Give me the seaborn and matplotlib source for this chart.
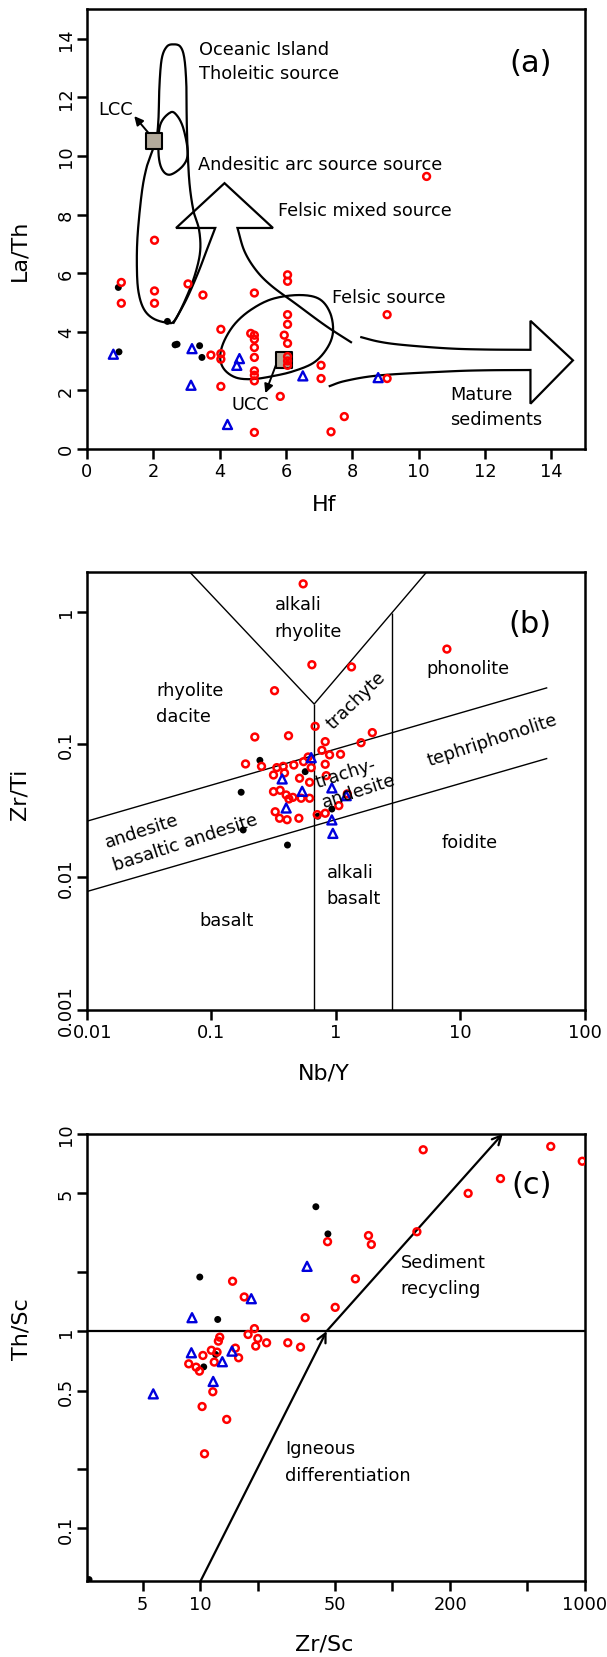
import numpy as np
import pandas as pd
import matplotlib
matplotlib.use("Agg")
import matplotlib.pyplot as plt
import matplotlib.transforms as mtransforms
import seaborn as sns

# ---------------- data: panel (a) La/Th vs Hf ----------------
a_red_hf = [1.04, 1.04, 2.04, 2.04, 2.04, 3.05, 3.50, 4.04, 3.74, 4.04, 4.04, 4.04, 4.94,
            5.05, 5.05, 5.05, 5.05, 5.05, 5.05, 5.05, 5.05, 5.05, 5.95, 6.05, 6.05, 6.05,
            6.05, 6.05, 6.05, 6.05, 6.05, 5.83, 7.06, 7.06, 7.36, 7.76, 9.05, 9.05, 10.24]
a_red_lath = [5.68, 4.97, 7.12, 5.39, 4.97, 5.63, 5.25, 4.08, 3.20, 3.25, 3.06, 2.13, 3.94,
              3.88, 3.74, 3.46, 3.12, 5.32, 2.66, 2.51, 2.32, 0.56, 3.88, 5.94, 5.72, 4.58,
              4.25, 3.60, 3.15, 3.00, 2.85, 1.79, 2.85, 2.40, 0.58, 1.10, 4.58, 2.40, 9.30]
a_blk_hf = [0.95, 0.97, 2.43, 2.66, 2.72, 3.40, 3.47]
a_blk_lath = [5.51, 3.31, 4.35, 3.55, 3.57, 3.52, 3.12]
a_blu_hf = [0.80, 3.17, 3.14, 4.60, 4.52, 4.24, 6.51, 8.78]
a_blu_lath = [3.23, 3.42, 2.17, 3.08, 2.85, 0.83, 2.49, 2.43]
a_ref_hf = [2.02, 5.95]          # LCC, UCC
a_ref_lath = [10.50, 3.04]

# field outlines of panel (a) (data units)
a_outer_loop = [(2.61, 13.81), (2.41, 13.73), (2.26, 13.33), (2.19, 12.42), (2.16, 11.27),
                (2.10, 10.60), (1.95, 10.10), (1.80, 9.60), (1.66, 8.77), (1.53, 7.28),
                (1.51, 6.14), (1.56, 5.34), (1.72, 4.77), (2.00, 4.45), (2.41, 4.31),
                (2.66, 4.40), (3.05, 5.30), (3.30, 6.10), (3.42, 6.80), (3.38, 7.50),
                (3.22, 8.10), (3.10, 9.00), (3.04, 10.13), (3.01, 11.27), (3.00, 12.42),
                (2.94, 13.33), (2.82, 13.73)]
a_arc_loop = [(2.51, 11.48), (2.21, 11.05), (2.16, 10.13), (2.26, 9.56), (2.51, 9.36),
              (2.91, 9.68), (3.04, 10.13), (2.91, 10.94), (2.71, 11.39)]
a_felsic_loop = [(4.02, 3.10), (4.12, 3.63), (4.45, 4.25), (4.95, 4.75), (5.60, 5.12),
                 (6.40, 5.25), (7.00, 5.12), (7.33, 4.65), (7.42, 4.00), (7.25, 3.45),
                 (6.85, 2.95), (6.23, 2.65), (5.60, 2.48), (5.00, 2.38), (4.50, 2.43),
                 (4.15, 2.70)]
a_up_left_shaft = [(2.60, 4.27), (3.00, 5.10), (3.35, 6.00), (3.62, 6.80), (3.87, 7.54)]
a_up_head = [(3.87, 7.54), (2.69, 7.54), (4.15, 9.07), (5.61, 7.54), (4.54, 7.54)]
a_up_right_shaft = [(4.54, 7.54), (4.75, 6.75), (5.10, 6.10), (5.56, 5.57), (6.30, 4.95),
                    (7.20, 4.20), (7.99, 3.62)]
a_rt_upper_shaft = [(8.24, 3.82), (8.80, 3.66), (9.50, 3.55), (10.86, 3.43), (12.00, 3.39),
                    (13.37, 3.38)]
a_rt_head = [(13.37, 3.38), (13.37, 4.37), (14.65, 3.02), (13.37, 1.54), (13.37, 2.69)]
a_rt_lower_shaft = [(13.37, 2.69), (12.00, 2.68), (10.86, 2.64), (8.85, 2.51), (7.80, 2.32),
                    (7.29, 2.13)]

# ---------------- data: panel (b) Zr/Ti vs Nb/Y ----------------
b_red_nby = [0.548, 0.644, 1.34, 0.3225, 7.83, 0.684, 0.224, 0.418, 1.97, 1.60, 0.824, 0.775,
             0.893, 1.094, 0.601, 0.1886, 0.2535, 0.3367, 0.379, 0.461, 0.552, 0.636, 0.824,
             0.3165, 0.388, 0.5125, 0.617, 0.84, 0.3165, 0.358, 0.40, 0.421, 0.453, 0.528,
             0.617, 1.06, 0.3265, 0.354, 0.407, 0.506, 0.711, 0.824, 1.24]
b_red_zrti = [1.62, 0.398, 0.383, 0.2535, 0.522, 0.1366, 0.1135, 0.116, 0.1225, 0.1028,
              0.1047, 0.0901, 0.0832, 0.0841, 0.0802, 0.0711, 0.0682, 0.0667, 0.0682, 0.0698,
              0.0740, 0.0667, 0.0707, 0.0587, 0.0608, 0.0555, 0.0517, 0.058, 0.044, 0.045,
              0.0415, 0.0387, 0.0398, 0.0392, 0.0392, 0.0345, 0.031, 0.0277, 0.027, 0.0277,
              0.0295, 0.0302, 0.0423]
b_blk_nby = [0.246, 0.569, 0.174, 0.1806, 0.41, 0.719, 0.932]
b_blk_zrti = [0.0757, 0.0622, 0.0435, 0.0226, 0.0174, 0.0287, 0.0325]
b_blu_nby = [0.636, 0.3715, 0.538, 0.40, 0.932, 0.932, 0.949, 1.215]
b_blu_zrti = [0.0793, 0.0548, 0.0442, 0.0331, 0.0469, 0.0269, 0.0213, 0.041]

# field boundaries of panel (b)
b_v_line = [(0.0668, 2.0), (0.672, 0.201), (5.41, 2.0)]
b_vert1 = [(0.672, 0.001), (0.672, 0.201)]
b_vert2 = [(2.83, 0.001), (2.83, 0.979)]
b_upper = [(0.01, 0.0263), (50.2, 0.267)]
b_lower = [(0.01, 0.00776), (50.2, 0.0783)]

# ---------------- data: panel (c) Th/Sc vs Zr/Sc ----------------
c_red_zrsc = [247.7, 365, 134, 75, 77.6, 45.9, 64.1, 50.3, 35.1, 14.7, 16.9, 19.1, 17.7, 19.9,
              19.4, 22.1, 28.5, 33.2, 12.6, 12.4, 11.4, 10.3, 12.2, 15.2, 15.8, 11.8, 8.69,
              9.49, 9.88, 11.6, 10.2, 13.7, 10.5, 144.5, 667, 973]
c_red_thsc = [4.99, 5.93, 3.19, 3.05, 2.75, 2.84, 1.84, 1.32, 1.17, 1.79, 1.49, 1.03, 0.962,
              0.918, 0.84, 0.873, 0.873, 0.83, 0.932, 0.89, 0.80, 0.753, 0.783, 0.82, 0.733,
              0.697, 0.683, 0.657, 0.627, 0.493, 0.415, 0.357, 0.239, 8.3, 8.63, 7.26]
c_blk_zrsc = [39.9, 46.1, 9.92, 12.3, 12.0, 10.4, 2.63]
c_blk_thsc = [4.27, 3.11, 1.88, 1.146, 0.762, 0.659, 0.0551]
c_blu_zrsc = [35.9, 18.4, 9.04, 8.97, 14.6, 13.0, 11.65, 5.68]
c_blu_thsc = [2.13, 1.46, 1.17, 0.777, 0.792, 0.70, 0.556, 0.481]
c_igneous = [(10.0, 0.054), (45.4, 1.0)]
c_sediment = [(45.4, 1.0), (375.0, 10.0)]

# ---------------- style ----------------
sns.set_theme(style="ticks")
plt.rcParams.update({
    "font.family": ["DejaVu Sans"],
    "axes.edgecolor": "black", "axes.linewidth": 1.8,
    "xtick.color": "black", "ytick.color": "black",
    "xtick.major.width": 1.8, "ytick.major.width": 1.8,
    "xtick.major.size": 7.2, "ytick.major.size": 7.2,
    "xtick.major.pad": 2.5, "ytick.major.pad": 1.5,
    "xtick.labelsize": 12.8, "ytick.labelsize": 12.8,
    "axes.labelsize": 16, "text.color": "black", "axes.labelcolor": "black",
})

RED, BLUE, BLK = "#ff0000", "#0000dd", "#000000"
FS = 12.8


def smooth(pts, n=16, closed=False):
    P = np.asarray(pts, float)
    if closed:
        P = np.vstack([P[-1], P, P[0], P[1]])
    else:
        P = np.vstack([2 * P[0] - P[1], P, 2 * P[-1] - P[-2]])
    out = []
    t = np.linspace(0, 1, n, endpoint=False)[:, None]
    for i in range(1, len(P) - 2):
        p0, p1, p2, p3 = P[i - 1], P[i], P[i + 1], P[i + 2]
        out.append(0.5 * ((2 * p1) + (-p0 + p2) * t + (2 * p0 - 5 * p1 + 4 * p2 - p3) * t ** 2
                          + (-p0 + 3 * p1 - 3 * p2 + p3) * t ** 3))
    out.append(P[-2][None, :])
    return np.vstack(out)


def draw_points(ax, rx, ry, kx, ky, bx, by):
    sns.scatterplot(x=kx, y=ky, ax=ax, marker="o", s=25, color=BLK, edgecolor="none",
                    linewidth=0, zorder=6, legend=False)
    sns.scatterplot(x=rx, y=ry, ax=ax, marker="o", s=24, facecolor="none", edgecolor=RED,
                    linewidth=1.8, zorder=7, legend=False)
    sns.scatterplot(x=bx, y=by, ax=ax, marker="^", s=42, facecolor="none", edgecolor=BLUE,
                    linewidth=1.7, zorder=7, legend=False)


def line(ax, pts, lw=1.6, **kw):
    p = np.asarray(pts, float)
    ax.plot(p[:, 0], p[:, 1], color="black", lw=lw, solid_joinstyle="miter",
            solid_capstyle="butt", zorder=3, **kw)


fig = plt.figure(figsize=(6.07, 16.58), dpi=100)
L, W = 0.1430, 0.8200
axA = fig.add_axes([L, 0.72871, W, 0.26496])
axB = fig.add_axes([L, 0.39047, W, 0.26411])
axC = fig.add_axes([L, 0.04566, W, 0.26990])

# ---------------- panel (a) ----------------
ax = axA
line(ax, smooth(a_outer_loop, closed=True))
line(ax, smooth(a_arc_loop, closed=True))
line(ax, smooth(a_felsic_loop, closed=True))
up = np.vstack([smooth(a_up_left_shaft, 8), np.asarray(a_up_head[1:]), smooth(a_up_right_shaft, 8)[1:]])
line(ax, up)
rt = np.vstack([smooth(a_rt_upper_shaft, 8), np.asarray(a_rt_head[1:]), smooth(a_rt_lower_shaft, 8)[1:]])
line(ax, rt)
ax.annotate("", xy=(1.43, 11.36), xytext=(1.90, 10.73),
            arrowprops=dict(arrowstyle="-|>", lw=1.4, color="black", mutation_scale=13,
                            shrinkA=0, shrinkB=0), zorder=4)
ax.annotate("", xy=(5.38, 1.90), xytext=(5.73, 2.95),
            arrowprops=dict(arrowstyle="-|>", lw=1.4, color="black", mutation_scale=13,
                            shrinkA=0, shrinkB=0), zorder=4)
sns.scatterplot(x=a_ref_hf, y=a_ref_lath, ax=ax, marker="s", s=125, color="#b3aa9b",
                edgecolor="black", linewidth=1.5, zorder=5, legend=False)
draw_points(ax, a_red_hf, a_red_lath, a_blk_hf, a_blk_lath, a_blu_hf, a_blu_lath)
ax.set_xlim(0, 15)
ax.set_ylim(0, 15)
ax.set_xticks(range(0, 15, 2))
ax.set_yticks(range(0, 15, 2), [str(v) for v in range(0, 15, 2)], rotation=90, va="center")
ax.set_xlabel("Hf")
ax.set_ylabel("La/Th")
txt = dict(fontsize=FS, ha="left", va="center", linespacing=1.45, zorder=8)
ax.text(3.37, 13.23, "Oceanic Island\nTholeitic source", **txt)
ax.text(0.36, 11.60, "LCC", **txt)
ax.text(3.34, 9.74, "Andesitic arc source source", **txt)
ax.text(5.75, 8.17, "Felsic mixed source", **txt)
ax.text(7.39, 5.19, "Felsic source", **txt)
ax.text(4.37, 1.52, "UCC", **txt)
ax.text(10.96, 1.44, "Mature\nsediments", **txt)
ax.text(12.72, 13.20, "(a)", fontsize=22, ha="left", va="center")

txt2 = dict(txt, linespacing=1.6)

# ---------------- panel (b) ----------------
ax = axB
ax.set_xscale("log")
ax.set_yscale("log")
for seg in (b_v_line, b_vert1, b_vert2, b_upper, b_lower):
    line(ax, seg, lw=1.0)
draw_points(ax, b_red_nby, b_red_zrti, b_blk_nby, b_blk_zrti, b_blu_nby, b_blu_zrti)
ax.set_xlim(0.01, 100)
ax.set_ylim(0.001, 2.0)
ax.set_xticks([0.01, 0.1, 1, 10, 100], ["0.01", "0.1", "1", "10", "100"])
ax.set_yticks([0.001, 0.01, 0.1, 1], ["0.001", "0.01", "0.1", "1"], rotation=90, va="center")
ax.minorticks_off()
ax.set_xlabel("Nb/Y")
ax.set_ylabel("Zr/Ti")
ax.text(0.323, 0.906, "alkali\nrhyolite", **txt2)
ax.text(0.036, 0.205, "rhyolite\ndacite", **txt2)
ax.text(5.35, 0.376, "phonolite", **txt2)
ax.text(7.05, 0.0182, "foidite", **txt2)
ax.text(0.849, 0.0087, "alkali\nbasalt", **txt2)
ax.text(0.0805, 0.00474, "basalt", **txt2)
rot = dict(fontsize=FS, ha="center", va="center", rotation_mode="anchor", zorder=8)
ax.text(1.462, 0.216, "trachyte", rotation=44, **rot)
ax.text(18.1, 0.108, "tephriphonolite", rotation=18, **rot)
ax.text(1.193, 0.0608, "trachy-", rotation=18, **rot)
ax.text(1.537, 0.0447, "andesite", rotation=18, **rot)
ax.text(0.0275, 0.0223, "andesite", rotation=18, **rot)
ax.text(0.0621, 0.01845, "basaltic andesite", rotation=18, **rot)
ax.text(24.5, 0.807, "(b)", fontsize=22, ha="left", va="center")
# the first x tick label sits slightly right of its tick, as in the original
first = ax.xaxis.get_major_ticks()[0].label1
first.set_transform(first.get_transform()
                    + mtransforms.ScaledTranslation(0.06, 0, fig.dpi_scale_trans))

# ---------------- panel (c) ----------------
ax = axC
ax.set_xscale("log")
ax.set_yscale("log")
ax.set_xlim(2.56, 1000)
ax.set_ylim(0.054, 10)
ax.axhline(1.0, color="black", lw=1.6, zorder=3)
for seg in (c_igneous, c_sediment):
    ax.annotate("", xy=seg[1], xytext=seg[0],
                arrowprops=dict(arrowstyle="->", lw=1.6, color="black", mutation_scale=16,
                                shrinkA=0, shrinkB=0), zorder=3)
draw_points(ax, c_red_zrsc, c_red_thsc, c_blk_zrsc, c_blk_thsc, c_blu_zrsc, c_blu_thsc)
ax.set_xticks([5, 10, 20, 50, 100, 200, 500, 1000], ["5", "10", "", "50", "", "200", "", "1000"])
ax.set_yticks([0.1, 0.2, 0.5, 1, 2, 5, 10], ["0.1", "", "0.5", "1", "", "5", "10"],
              rotation=90, va="center")
ax.minorticks_off()
ax.set_xlabel("Zr/Sc")
ax.set_ylabel("Th/Sc")
ax.text(110, 1.92, "Sediment\nrecycling", **txt2)
ax.text(27.5, 0.218, "Igneous\ndifferentiation", **txt2)
ax.text(417, 5.54, "(c)", fontsize=22, ha="left", va="center")

# axis label placement
axA.xaxis.set_label_coords(0.477, -0.1257)
axB.xaxis.set_label_coords(0.477, -0.1432)
axC.xaxis.set_label_coords(0.477, -0.1401)
axA.yaxis.set_label_coords(-0.1360, 0.455)
axB.yaxis.set_label_coords(-0.1345, 0.495)
axC.yaxis.set_label_coords(-0.1320, 0.566)
for a in (axA, axB, axC):
    a.xaxis.label.set_va("center")
    a.yaxis.label.set_va("center")
    for s in a.spines.values():
        s.set_visible(True)

fig.savefig("out.png", dpi=100)
